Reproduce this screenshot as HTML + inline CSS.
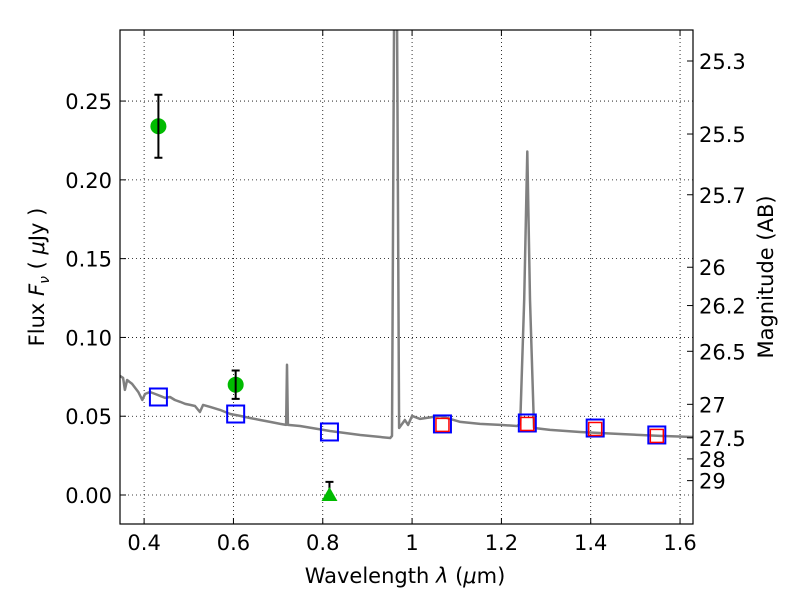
<!DOCTYPE html>
<html><head><meta charset="utf-8"><style>
body{margin:0;background:#fff;}
svg text{font-family:"DejaVu Sans","Liberation Sans",sans-serif;}
</style></head><body>
<svg id="chart" width="800" height="600" xmlns="http://www.w3.org/2000/svg">
<defs><clipPath id="clip"><rect x="120" y="30" width="573" height="494"/></clipPath></defs>
<rect width="800" height="600" fill="#fff"/>
<g id="grid"></g>
<g id="marks" clip-path="url(#clip)"></g>
<rect x="120" y="30" width="573" height="494" fill="none" stroke="#000" stroke-width="1.2"/>
<g id="axes"></g>
<text x="405" y="583" font-size="21" text-anchor="middle">Wavelength  <tspan font-style="italic">λ</tspan> (<tspan font-style="italic">μ</tspan>m)</text>
<text transform="translate(44,277) rotate(-90)" font-size="21" text-anchor="middle">Flux  <tspan font-style="italic">F<tspan font-size="14" dy="5">ν</tspan></tspan><tspan dy="-5">  (  </tspan><tspan font-style="italic">μ</tspan>Jy )</text>
<text transform="translate(773,277) rotate(-90)" font-size="21" text-anchor="middle">Magnitude (AB)</text>
</svg>
<script>
const specWl=[0.346,0.353,0.357,0.362,0.373,0.387,0.396,0.402,0.413,0.425,0.436,0.447,0.458,0.469,0.481,0.492,0.503,0.514,0.525,0.532,0.548,0.570,0.593,0.615,0.637,0.660,0.682,0.705,0.718,0.720,0.722,0.749,0.816,0.884,0.951,0.955,0.960,0.966,0.971,0.984,0.991,1.000,1.018,1.063,1.108,1.152,1.197,1.235,1.242,1.251,1.258,1.264,1.273,1.309,1.376,1.466,1.555,1.629];
const specFlux=[0.0756,0.0743,0.0667,0.0730,0.0705,0.0654,0.0603,0.0641,0.0654,0.0641,0.0629,0.0616,0.0622,0.0603,0.0591,0.0578,0.0572,0.0565,0.0527,0.0572,0.0559,0.0540,0.0514,0.0502,0.0489,0.0476,0.0464,0.0451,0.0445,0.0826,0.0445,0.0438,0.0406,0.0381,0.0362,0.0375,0.32,0.32,0.0425,0.0476,0.0445,0.0502,0.0483,0.0502,0.0464,0.0451,0.0445,0.0438,0.0451,0.124,0.218,0.124,0.0425,0.0413,0.0400,0.0387,0.0375,0.0368];
const modelWl=[0.432,0.605,0.815,1.068,1.258,1.41,1.548];
const modelFlux=[0.0622,0.0514,0.0400,0.0451,0.0457,0.0425,0.0381];
const obsSqWl=[1.068,1.258,1.41,1.548];
const obsSqFlux=[0.0445,0.0451,0.0419,0.0375];
const detWl=[0.432,0.605];
const detFlux=[0.234,0.070];
const detErr=[0.020,0.009];
const limWl=[0.815];
const limFlux=[0.0];
const limErr=[0.0083];
const xTicks=[0.4,0.6,0.8,1.0,1.2,1.4,1.6];
const xTickLabels=["0.4","0.6","0.8","1","1.2","1.4","1.6"];
const yTicks=[0,0.05,0.1,0.15,0.2,0.25];
const yTickLabels=["0.00","0.05","0.10","0.15","0.20","0.25"];
const magTicks=[25.3,25.5,25.7,26,26.2,26.5,27,27.5,28,29];

const X0=120,X1=693,Y0=30,Y1=524;
const xmin=0.346,xmax=1.629,ymin=-0.0184,ymax=0.2951;
const sx=v=>X0+(v-xmin)/(xmax-xmin)*(X1-X0);
const sy=v=>Y1-(v-ymin)/(ymax-ymin)*(Y1-Y0);
const NS="http://www.w3.org/2000/svg";
function mk(parent,tag,attrs){const e=document.createElementNS(NS,tag);for(const k in attrs)e.setAttribute(k,attrs[k]);parent.appendChild(e);return e;}
const grid=document.getElementById('grid'),marks=document.getElementById('marks'),axes=document.getElementById('axes');

xTicks.forEach((t,i)=>{
  const x=sx(t);
  const g=mk(grid,'line',{x1:x,x2:x,y1:Y0,y2:Y1,stroke:'#000','stroke-width':0.8,'stroke-dasharray':'1,3'});
  
  
  mk(axes,'line',{x1:x,x2:x,y1:Y1,y2:Y1-6,stroke:'#000'});
  mk(axes,'line',{x1:x,x2:x,y1:Y0,y2:Y0+6,stroke:'#000'});
  const tx=mk(axes,'text',{x:x,y:Y1+26,'font-size':21,'text-anchor':'middle'});
  tx.textContent=xTickLabels[i];
  
  
});
yTicks.forEach((t,i)=>{
  const y=sy(t);
  const g=mk(grid,'line',{x1:X0,x2:X1,y1:y,y2:y,stroke:'#000','stroke-width':0.8,'stroke-dasharray':'1,3'});
  
  
  mk(axes,'line',{x1:X0,x2:X0+6,y1:y,y2:y,stroke:'#000'});
  const tx=mk(axes,'text',{x:X0-8,y:y+8,'font-size':21,'text-anchor':'end'});
  tx.textContent=yTickLabels[i];
  
  
});
magTicks.forEach(m=>{
  const f=Math.pow(10,(23.9-m)/2.5);
  const y=sy(f);
  mk(axes,'line',{x1:X1,x2:X1-6,y1:y,y2:y,stroke:'#000'});
  const tx=mk(axes,'text',{x:X1+6,y:y+8,'font-size':21});
  tx.textContent=String(m);
  
  
});

const d=specWl.map((w,i)=>(i?'L':'M')+sx(w).toFixed(1)+','+sy(specFlux[i]).toFixed(1)).join(' ');
const sp=mk(marks,'path',{d:d,fill:'none',stroke:'#808080','stroke-width':2.5,'stroke-linejoin':'round'});



modelWl.forEach((w,i)=>{
  const r=mk(marks,'rect',{x:sx(w)-8.5,y:sy(modelFlux[i])-8.5,width:17,height:17,fill:'none',stroke:'#0000ff','stroke-width':2});
  
  
});
obsSqWl.forEach((w,i)=>{
  const r=mk(marks,'rect',{x:sx(w)-6.5,y:sy(obsSqFlux[i])-6.5,width:13,height:13,fill:'none',stroke:'#ff0000','stroke-width':1.5});
  
  
});
detWl.forEach((w,i)=>{
  const x=sx(w),y=sy(detFlux[i]),yt=sy(detFlux[i]+detErr[i]),yb=sy(detFlux[i]-detErr[i]);
  const c=mk(marks,'circle',{cx:x,cy:y,r:8,fill:'#00bb00'});
  
  
  const e=mk(marks,'path',{d:`M${x},${yt}L${x},${yb}M${x-4},${yt}L${x+4},${yt}M${x-4},${yb}L${x+4},${yb}`,stroke:'#000','stroke-width':2,fill:'none'});
  
  
});
limWl.forEach((w,i)=>{
  const x=sx(w),y=sy(limFlux[i]),yt=sy(limFlux[i]+limErr[i]);
  const e=mk(marks,'path',{d:`M${x},${yt}L${x},${y}M${x-4},${yt}L${x+4},${yt}`,stroke:'#000','stroke-width':2,fill:'none'});
  
  
  const t=mk(marks,'path',{d:`M${x},${y-8}L${x+8},${y+6}L${x-8},${y+6}Z`,fill:'#00bb00'});
  
  
});
</script>
</body></html>
